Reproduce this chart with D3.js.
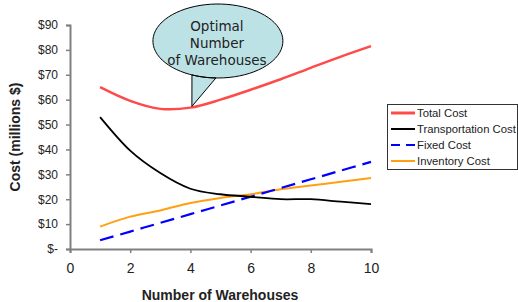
<!DOCTYPE html>
<html>
<head>
<meta charset="utf-8">
<script src="https://cdn.jsdelivr.net/npm/d3@7"></script>
<style>
  body { margin: 0; background: #fff; }
  svg { display: block; }
  text { font-family: "Liberation Sans", Arial, sans-serif; fill: #222; }
</style>
</head>
<body>
<div id="chart"></div>
<script>
const width = 518;
const height = 302;

// values
const warehouses = [1, 2, 3, 4, 5, 6, 7, 8, 9, 10];
const totalCost = [65, 59.5, 56.3, 56.8, 60, 64, 68.2, 72.8, 77.3, 81.5];
const transportCost = [53, 39.5, 30.5, 24.2, 22, 21, 20, 20, 19, 18];
const fixedCost = [3.5, 7, 10.5, 14, 17.5, 21, 24.5, 28, 31.5, 35];
const inventoryCost = [9, 13, 15.5, 18.5, 20.5, 22, 24, 25.5, 27, 28.5];

const yTicks = [0, 10, 20, 30, 40, 50, 60, 70, 80, 90];
const xTicks = [0, 2, 4, 6, 8, 10];

const seriesNames = ["Total Cost", "Transportation Cost", "Fixed Cost", "Inventory Cost"];
const seriesValues = [totalCost, transportCost, fixedCost, inventoryCost];
const seriesColors = ["#ff4a4a", "#000000", "#0000ff", "#ffa010"];
const seriesWidths = [2.5, 1.8, 2.2, 2];
const seriesDash = [null, null, "14,7", null];

const calloutLines = ["Optimal", "Number", "of Warehouses"];

const svg = d3.select("#chart").append("svg")
    .attr("width", width)
    .attr("height", height);

const x = d3.scaleLinear().domain([0, 10]).range([70, 371]);
const y = d3.scaleLinear().domain([0, 90]).range([249, 25]);

// y axis
const yAxis = svg.append("g")
    .attr("transform", `translate(${x(0)},0)`)
    .call(d3.axisLeft(y).tickValues(yTicks).tickSize(4).tickPadding(8)
        .tickFormat(d => d === 0 ? "$-" : "$" + d));
yAxis.select(".domain").attr("stroke", "#808080").attr("stroke-width", 2);
yAxis.selectAll(".tick line").attr("stroke", "#808080").attr("stroke-width", 1.5);
yAxis.selectAll(".tick text").style("font-size", "12px").attr("fill", "#222");

// x axis
const xAxis = svg.append("g")
    .attr("transform", `translate(0,${y(0)})`)
    .call(d3.axisBottom(x).tickValues(xTicks).tickSize(4).tickPadding(10));
xAxis.select(".domain").attr("stroke", "#808080").attr("stroke-width", 2);
xAxis.selectAll(".tick line").attr("stroke", "#808080").attr("stroke-width", 1.5);
xAxis.selectAll(".tick text").style("font-size", "14px").attr("fill", "#222");

// axis titles
svg.append("text")
    .attr("x", 220)
    .attr("y", 300)
    .attr("text-anchor", "middle")
    .style("font-size", "14px")
    .style("font-weight", "bold")
    .text("Number of Warehouses");

svg.append("text")
    .attr("transform", `translate(20,137) rotate(-90)`)
    .attr("text-anchor", "middle")
    .style("font-size", "14px")
    .style("font-weight", "bold")
    .text("Cost (millions $)");

// lines
const line = d3.line()
    .x((d, i) => x(warehouses[i]))
    .y(d => y(d))
    .curve(d3.curveCatmullRom.alpha(0));

const drawOrder = [3, 2, 1, 0];
svg.append("g").selectAll("path")
    .data(drawOrder)
    .join("path")
    .attr("d", i => line(seriesValues[i]))
    .attr("fill", "none")
    .attr("stroke", i => seriesColors[i])
    .attr("stroke-width", i => seriesWidths[i])
    .attr("stroke-dasharray", i => seriesDash[i]);

// legend
const legend = svg.append("g").attr("transform", "translate(387,104)");
legend.append("rect")
    .attr("x", 0.5).attr("y", 0.5)
    .attr("width", 130).attr("height", 65)
    .attr("fill", "#fff")
    .attr("stroke", "#333")
    .attr("stroke-width", 1);

const item = legend.selectAll(".item")
    .data(seriesNames)
    .join("g")
    .attr("transform", (d, i) => `translate(0,${9 + i * 16})`);
item.append("line")
    .attr("x1", 4).attr("x2", 28)
    .attr("stroke", (d, i) => seriesColors[i])
    .attr("stroke-width", (d, i) => i === 0 ? 3 : 2)
    .attr("stroke-dasharray", (d, i) => i === 2 ? "9,6" : null);
item.append("text")
    .attr("x", 30)
    .attr("dy", "0.35em")
    .style("font-size", "11.3px")
    .text(d => d);

// callout bubble pointing at the optimum
const tipX = x(4.05), tipY = y(57.3);
const cx = tipX + 26, cy = 41;
const rx = 65, ry = 37;
const bubble = d3.path();
// ellipse with a gap where the tail attaches
const a1 = Math.atan2((75 - cy) / ry, (tipX - cx) / rx);
const a2 = Math.atan2((78 - cy) / ry, (tipX + 24 - cx) / rx);
const steps = 80;
const end = a1 + 2 * Math.PI;
for (let k = 0; k <= steps; k++) {
    const t = a2 + (end - a2) * k / steps;
    const px = cx + rx * Math.cos(t), py = cy + ry * Math.sin(t);
    if (k === 0) bubble.moveTo(px, py); else bubble.lineTo(px, py);
}
bubble.lineTo(tipX, tipY);
bubble.closePath();

const callout = svg.append("g");
callout.append("path")
    .attr("d", bubble.toString())
    .attr("fill", "#bde2e6")
    .attr("stroke", "#000")
    .attr("stroke-width", 1);

callout.selectAll("text")
    .data(calloutLines)
    .join("text")
    .attr("x", cx - 1)
    .attr("y", (d, i) => 31 + i * 17)
    .attr("text-anchor", "middle")
    .style("font-family", "'Comic Sans MS', 'DejaVu Sans', sans-serif")
    .style("font-size", "13.5px")
    .attr("fill", "#111")
    .text(d => d);
</script>
</body>
</html>
